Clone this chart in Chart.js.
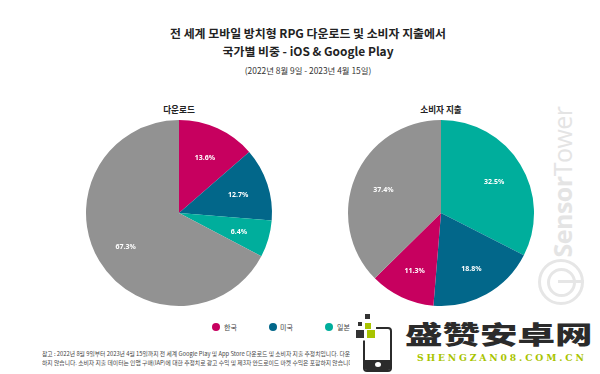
<!DOCTYPE html>
<html>
<head>
<meta charset="utf-8">
<style>
html, body { margin: 0; padding: 0; background: #fff; }
#page { position: relative; width: 600px; height: 374px; overflow: hidden; font-family: "Noto Sans CJK KR", sans-serif; color: #222; }
#page div, #page span { position: absolute; white-space: nowrap; }
.center { text-align: center; }
canvas { position: absolute; }
.dot { width: 8px; height: 8px; border-radius: 50%; top: 323px; }
.leg { top: 321px; font-size: 7px; line-height: 12px; color: #444; }
.note { left: 42px; font-size: 5.8px; line-height: 8px; color: #444; width: 308px; overflow: hidden; }
.sq { background: #333; }
</style>
</head>
<body>
<div id="page">
   <div class="center" style="left:0;width:616px;top:24px;font-size:11.9px;line-height:18px;font-weight:700;color:#222">전 세계 모바일 방치형 RPG 다운로드 및 소비자 지출에서</div>
   <div class="center" style="left:0;width:616px;top:42px;font-size:11.9px;line-height:18px;font-weight:700;color:#222">국가별 비중 - iOS &amp; Google Play</div>
   <div class="center" style="left:0;width:616px;top:63px;font-size:8.4px;line-height:14px;color:#333">(2022년 8월 9일 - 2023년 4월 15일)</div>

   <div class="center" style="left:79px;width:200px;top:102px;font-size:8.6px;line-height:14px;font-weight:700">다운로드</div>
   <div class="center" style="left:341px;width:200px;top:102px;font-size:8.6px;line-height:14px;font-weight:700">소비자 지출</div>

   <canvas id="download-pie" width="200" height="200" style="left:79px;top:113px"></canvas>
   <canvas id="spend-pie" width="200" height="200" style="left:341px;top:113px"></canvas>

   <div class="dot" style="left:212px;background:#c7005f"></div>
   <div class="leg" style="left:224px">한국</div>
   <div class="dot" style="left:269px;background:#02678a"></div>
   <div class="leg" style="left:280px">미국</div>
   <div class="dot" style="left:325px;background:#00ae9c"></div>
   <div class="leg" style="left:337px">일본</div>

   <div class="note" style="top:350px">참고 : 2022년 8월 9일부터 2023년 4월 15일까지 전 세계 Google Play 및 App Store 다운로드 및 소비자 지출 추정치입니다. 다운로드</div>
   <div class="note" style="top:359px">하지 않습니다. 소비자 지출 데이터는 인앱 구매(IAP)에 대한 추정치로 광고 수익 및 제3자 안드로이드 마켓 수익은 포함하지 않습니다</div>

   <!-- watermark -->
   <div style="left:562px;top:182px;width:0;height:0">
      <span style="left:-80px;top:-14px;width:160px;text-align:center;font:700 25px/28px 'Open Sans',sans-serif;color:#e4e4e4;transform:rotate(-90deg);letter-spacing:-0.5px">Sensor<span style="position:static;font-weight:400">Tower</span></span>
   </div>
   <div style="left:538px;top:259px;width:40px;height:40px;border:3px solid #e6e6e6;border-radius:50%"></div>
   <div style="left:547px;top:268px;width:23px;height:23px;border:3px solid #e6e6e6;border-radius:50%"></div>
   <div style="left:558px;top:280px;width:26px;height:3px;background:#e6e6e6"></div>

   <!-- site logo -->
   <div style="left:350px;top:312px;width:250px;height:62px;background:#fff"></div>
   <div class="sq" style="left:365px;top:314px;width:5px;height:5px"></div>
   <div class="sq" style="left:358px;top:322px;width:4px;height:4px"></div>
   <div style="left:365px;top:323px;width:6px;height:6px;background:#a8c400"></div>
   <div class="sq" style="left:356px;top:330px;width:8px;height:8px"></div>
   <div style="left:367px;top:330px;width:8px;height:8px;background:#a8c400"></div>
   <div style="left:363px;top:327px;width:25px;height:41px;border:2px solid #2b2b2b;border-radius:4px;background:transparent;clip-path:polygon(45% 0,100% 0,100% 100%,0 100%,0 30%,45% 30%)"></div>
   <div style="left:363px;top:360px;width:29px;height:10px;background:#2b2b2b;border-radius:0 0 4px 4px"></div>
   <div style="left:375px;top:362px;width:6px;height:5px;border-radius:50%;background:#fff"></div>
   <div style="left:405px;top:318px;font:900 25px/30px 'Noto Sans CJK SC',sans-serif;color:#2b2b2b;transform:scaleX(1.5);transform-origin:left top">盛赞安卓网</div>
   <div style="left:417px;top:352px;font:700 9.2px/12px 'DejaVu Serif',serif;color:#a8c400;letter-spacing:2.85px">SHENGZAN08.COM.CN</div>
</div>

<script src="https://cdnjs.cloudflare.com/ajax/libs/Chart.js/4.4.1/chart.umd.min.js"></script>
<script>
// Chart data
const downloadLabels = ['한국', '미국', '일본', '기타'];
const downloadValues = [13.6, 12.7, 6.4, 67.3];
const downloadColors = ['#c7005f', '#02678a', '#00ae9c', '#929292'];

const spendLabels = ['일본', '미국', '한국', '기타'];
const spendValues = [32.5, 18.8, 11.3, 37.4];
const spendColors = ['#00ae9c', '#02678a', '#c7005f', '#929292'];

// percent text inside each slice
const sliceLabels = {
   id: 'sliceLabels',
   afterDatasetsDraw(chart) {
      const ctx = chart.ctx;
      const values = chart.data.datasets[0].data;
      ctx.save();
      ctx.font = '700 7px "Noto Sans", sans-serif';
      ctx.fillStyle = '#fff';
      ctx.textAlign = 'center';
      ctx.textBaseline = 'middle';
      chart.getDatasetMeta(0).data.forEach(function (arc, i) {
         const mid = (arc.startAngle + arc.endAngle) / 2;
         const r = arc.outerRadius * 0.67;
         ctx.fillText(values[i].toFixed(1) + '%', arc.x + Math.cos(mid) * r, arc.y + Math.sin(mid) * r + 1.5);
      });
      ctx.restore();
   }
};

function drawPie(id, labels, values, colors) {
   return new Chart(document.getElementById(id).getContext('2d'), {
      type: 'pie',
      data: {
         labels: labels,
         datasets: [{ data: values, backgroundColor: colors, borderWidth: 0 }]
      },
      options: {
         responsive: false,
         animation: false,
         radius: 93,
         plugins: { legend: { display: false }, tooltip: { enabled: false } }
      },
      plugins: [sliceLabels]
   });
}

drawPie('download-pie', downloadLabels, downloadValues, downloadColors);
drawPie('spend-pie', spendLabels, spendValues, spendColors);
</script>
</body>
</html>
